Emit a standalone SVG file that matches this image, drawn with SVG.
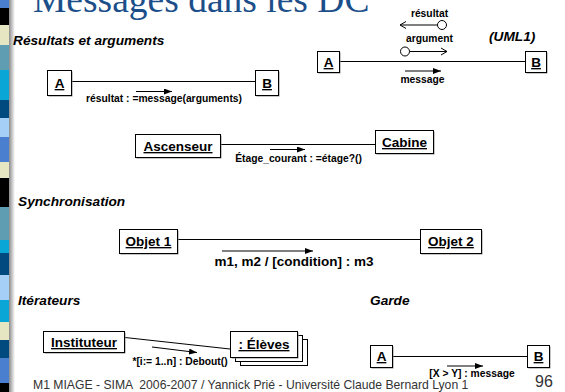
<svg xmlns="http://www.w3.org/2000/svg" width="565" height="392" viewBox="0 0 565 392">
  <defs>
    <linearGradient id="edgeShade" x1="0" y1="0" x2="1" y2="0">
      <stop offset="0" stop-color="#8a8a8a"/>
      <stop offset="1" stop-color="#ffffff"/>
    </linearGradient>
    <marker id="head" viewBox="0 0 8 6" refX="8" refY="3" markerWidth="8" markerHeight="6" markerUnits="userSpaceOnUse" orient="auto">
      <path d="M0,0 L8,3 L0,6 Z" fill="#000"/>
    </marker>
  </defs>
  <style>
    .box { fill: #fff; stroke: #000; stroke-width: 1; }
    .shadow { fill: #8c8c8c; }
    .link { stroke: #000; stroke-width: 1; fill: none; }
    .msg { stroke: #000; stroke-width: 1.2; fill: none; marker-end: url(#head); }
    .open { stroke: #000; stroke-width: 1; fill: none; }
    .lbl { font-family: "Liberation Sans", Arial, sans-serif; font-weight: bold; font-size: 13.5px; text-decoration: underline; text-anchor: middle; fill: #000; }
    .msgtxt { font-family: "Liberation Sans", Arial, sans-serif; font-weight: bold; font-size: 10.3px; text-anchor: middle; fill: #000; }
    .msgbig { font-size: 13.5px; }
    .head { font-family: "Liberation Sans", Arial, sans-serif; font-weight: bold; font-style: italic; font-size: 13.7px; fill: #000; }
    .foot { font-family: "Liberation Sans", Arial, sans-serif; fill: #333; white-space: pre; }
  </style>

  <rect width="565" height="392" fill="#fff"/>

  <!-- coloured side band -->
  <g id="band">
    <rect x="0" y="0" width="9" height="8" fill="#4a7fd0"/>
    <rect x="0" y="8" width="9" height="17" fill="#000"/>
    <rect x="0" y="25" width="9" height="20" fill="#e6e6c2"/>
    <rect x="0" y="45" width="9" height="25" fill="#5f9db3"/>
    <rect x="0" y="70" width="9" height="30" fill="#0aa6d6"/>
    <rect x="0" y="100" width="9" height="18" fill="#004a80"/>
    <rect x="0" y="118" width="9" height="19" fill="#a6cff7"/>
    <rect x="0" y="137" width="9" height="25" fill="#4a7fd0"/>
    <rect x="0" y="162" width="9" height="16" fill="#e6e6c2"/>
    <rect x="0" y="178" width="9" height="29" fill="#000"/>
    <rect x="0" y="207" width="9" height="33" fill="#5f9db3"/>
    <rect x="0" y="240" width="9" height="13" fill="#0aa6d6"/>
    <rect x="0" y="253" width="9" height="22" fill="#004a80"/>
    <rect x="0" y="275" width="9" height="25" fill="#a6cff7"/>
    <rect x="0" y="300" width="9" height="22" fill="#0aa6d6"/>
    <rect x="0" y="322" width="9" height="18" fill="#e6e6c2"/>
    <rect x="0" y="340" width="9" height="18" fill="#004a80"/>
    <rect x="0" y="358" width="9" height="25" fill="#4a7fd0"/>
    <rect x="0" y="383" width="9" height="9" fill="#000"/>
    <rect x="9" y="0" width="6" height="392" fill="url(#edgeShade)"/>
  </g>

  <!-- title, partly above the top edge -->
  <text x="33" y="12" font-family="Liberation Serif, 'Times New Roman', serif" font-size="37.5" fill="#1c4f8a">Messages dans les DC</text>

  <!-- section headings -->
  <text class="head" x="13" y="45">Résultats et arguments</text>
  <text class="head" x="489" y="41">(UML1)</text>
  <text class="head" x="18" y="206">Synchronisation</text>
  <text class="head" x="18" y="305">Itérateurs</text>
  <text class="head" x="370" y="305">Garde</text>

  <!-- connectors -->
  <g id="connectors">
    <line class="link" x1="71" y1="81.5" x2="255" y2="81.5"/>
    <line class="msg" x1="136" y1="91.5" x2="172" y2="91.5"/>

    <line class="link" x1="340" y1="61.5" x2="525" y2="61.5"/>
    <line class="msg" x1="405" y1="71" x2="441" y2="71"/>
    <circle class="open" cx="405" cy="51.5" r="4.5"/>
    <line class="open" x1="409.5" y1="51.5" x2="447" y2="51.5"/>
    <polyline class="open" points="441,48 447,51.5 441,55"/>
    <circle class="open" cx="442" cy="25" r="4.5"/>
    <line class="open" x1="437.5" y1="25" x2="400" y2="25"/>
    <polyline class="open" points="406,21.5 400,25 406,28.5"/>

    <line class="link" x1="221" y1="144.5" x2="375" y2="144.5"/>
    <line class="msg" x1="270" y1="149.5" x2="305" y2="149.5"/>

    <line class="link" x1="178" y1="239.5" x2="420" y2="239.5"/>
    <line class="msg" x1="222" y1="251" x2="313" y2="251"/>

    <line class="link" x1="125" y1="337.5" x2="230" y2="349"/>
    <line class="msg" x1="152" y1="347" x2="197" y2="352.5"/>

    <line class="link" x1="392" y1="356.5" x2="527" y2="356.5"/>
    <line class="msg" x1="447" y1="366" x2="483" y2="366"/>
  </g>

  <!-- message labels -->
  <text class="msgtxt" x="164" y="102">résultat : =message(arguments)</text>
  <text class="msgtxt" x="429.5" y="17">résultat</text>
  <text class="msgtxt" x="429.5" y="42">argument</text>
  <text class="msgtxt" x="422.5" y="83">message</text>
  <text class="msgtxt" x="298.5" y="161.5">Étage_courant : =étage?()</text>
  <text class="msgtxt msgbig" x="294" y="266">m1, m2 / [condition] : m3</text>
  <text class="msgtxt" x="180" y="365">*[i:= 1..n] : Debout()</text>
  <text class="msgtxt" x="472" y="377">[X &gt; Y] : message</text>

  <!-- objects -->
  <g id="a1">
    <rect class="shadow" x="48.5" y="71.5" width="24" height="25"/>
    <rect class="box" x="47.5" y="70.5" width="24" height="25"/>
    <text class="lbl" x="59.5" y="88">A</text>
  </g>
  <g id="b1">
    <rect class="shadow" x="256.5" y="71.5" width="23" height="25"/>
    <rect class="box" x="255.5" y="70.5" width="23" height="25"/>
    <text class="lbl" x="267" y="88">B</text>
  </g>
  <g id="a2">
    <rect class="shadow" x="318.5" y="52.5" width="22" height="21"/>
    <rect class="box" x="317.5" y="51.5" width="22" height="21"/>
    <text class="lbl" x="328.5" y="67">A</text>
  </g>
  <g id="b2">
    <rect class="shadow" x="526.5" y="52.5" width="21" height="21"/>
    <rect class="box" x="525.5" y="51.5" width="21" height="21"/>
    <text class="lbl" x="536" y="67">B</text>
  </g>
  <g id="ascenseur">
    <rect class="shadow" x="136.5" y="135.5" width="85" height="23"/>
    <rect class="box" x="135.5" y="134.5" width="85" height="23"/>
    <text class="lbl" x="178" y="151">Ascenseur</text>
  </g>
  <g id="cabine">
    <rect class="shadow" x="376.5" y="131.5" width="58" height="23"/>
    <rect class="box" x="375.5" y="130.5" width="58" height="23"/>
    <text class="lbl" x="404.5" y="147">Cabine</text>
  </g>
  <g id="objet1">
    <rect class="shadow" x="120.5" y="230.5" width="58" height="24"/>
    <rect class="box" x="119.5" y="229.5" width="58" height="24"/>
    <text class="lbl" x="148.5" y="246">Objet 1</text>
  </g>
  <g id="objet2">
    <rect class="shadow" x="421.5" y="230.5" width="61" height="24"/>
    <rect class="box" x="420.5" y="229.5" width="61" height="24"/>
    <text class="lbl" x="451" y="246">Objet 2</text>
  </g>
  <g id="instituteur">
    <rect class="shadow" x="44.5" y="332.5" width="81" height="21"/>
    <rect class="box" x="43.5" y="331.5" width="81" height="21"/>
    <text class="lbl" x="84" y="347">Instituteur</text>
  </g>
  <g id="eleves">
    <rect class="box" x="240.5" y="339.5" width="67" height="26"/>
    <rect class="box" x="235.5" y="335.5" width="67" height="26"/>
    <rect class="shadow" x="231.5" y="332.5" width="67" height="26"/>
    <rect class="box" x="230.5" y="331.5" width="67" height="26"/>
    <text class="lbl" x="264" y="349">: Élèves</text>
  </g>
  <g id="a3">
    <rect class="shadow" x="371.5" y="346.5" width="22" height="22"/>
    <rect class="box" x="370.5" y="345.5" width="22" height="22"/>
    <text class="lbl" x="381.5" y="361">A</text>
  </g>
  <g id="b3">
    <rect class="shadow" x="528.5" y="346.5" width="22" height="22"/>
    <rect class="box" x="527.5" y="345.5" width="22" height="22"/>
    <text class="lbl" x="538.5" y="361">B</text>
  </g>

  <!-- footer -->
  <text class="foot" x="33" y="389" font-size="12.2">M1 MIAGE - SIMA  2006-2007 / Yannick Prié - Université Claude Bernard Lyon 1</text>
  <text class="foot" x="535" y="387" font-size="16">96</text>
</svg>
